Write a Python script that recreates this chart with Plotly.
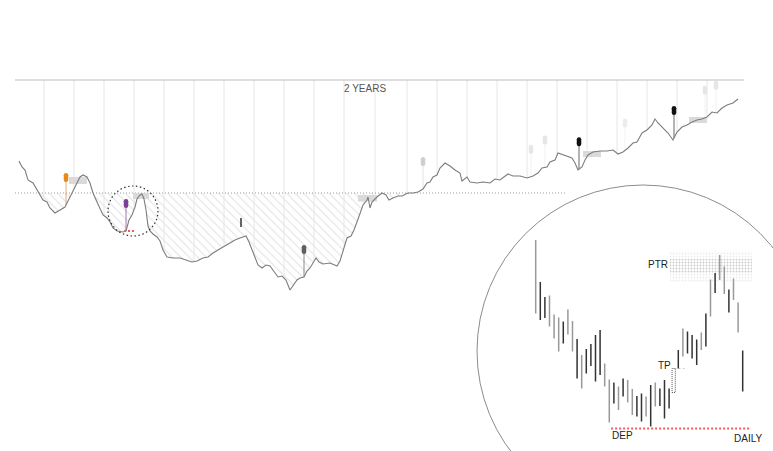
import numpy as np
import plotly.graph_objects as go

# ---------------- main series: % change vs. reference level, by day ----------------
days = [4, 7, 10, 13, 18, 22, 25, 28, 32, 35, 40, 45, 50, 52, 57, 62, 65, 68, 72, 75,
        78, 82, 85, 88, 92, 95, 98, 102, 108, 111, 114, 117, 120, 122, 125, 127, 129, 131, 133, 135,
        138, 142, 145, 148, 152, 158, 165, 172, 177, 182, 188, 193, 198, 203, 208, 215, 220, 225, 231, 234,
        237, 240, 243, 247, 251, 255, 259, 263, 267, 271, 275, 278, 282, 285, 289, 292, 295, 298, 301, 304,
        308, 315, 322, 325, 328, 332, 336, 339, 342, 345, 348, 352, 353, 355, 357, 362, 367, 371, 374, 378,
        383, 387, 393, 398, 403, 408, 412, 415, 418, 422, 425, 430, 435, 440, 445, 447, 452, 455, 462, 468,
        475, 480, 485, 493, 498, 505, 512, 518, 523, 527, 532, 535, 540, 543, 548, 553, 557, 560, 563, 567,
        570, 573, 578, 585, 592, 598, 603, 608, 613, 618, 622, 627, 632, 637, 640, 643, 648, 653, 658, 662,
        667, 672, 677, 682, 687, 692, 697, 702, 707, 712, 718, 723]
values = [6.4, 5.2, 4.6, 2.6, 2.0, 0.6, -0.4, -1.4, -1.8, -3.0, -4.0, -3.4, -2.8, -2.0, 0.0, 2.0, 3.2, 3.6, 3.2, 2.0,
          0.0, -1.8, -3.0, -4.4, -5.0, -5.8, -7.0, -7.6, -7.8, -7.6, -5.4, -4.4, -2.8, -1.2, -0.4, -0.2, -1.2, -3.4, -6.6, -7.6,
          -8.2, -8.8, -9.6, -11.4, -12.8, -13.0, -13.0, -13.4, -13.8, -13.6, -13.0, -12.8, -12.0, -11.4, -10.8, -10.0, -9.4, -9.0, -8.6, -9.8,
          -11.4, -13.0, -14.4, -15.0, -14.4, -14.6, -15.8, -16.8, -16.6, -17.4, -19.4, -18.6, -17.4, -17.0, -16.8, -15.6, -15.0, -14.0, -13.0, -13.8,
          -14.2, -14.0, -14.6, -13.6, -11.4, -9.0, -8.6, -7.4, -5.8, -4.0, -2.4, -1.4, -0.8, -3.0, -1.8, -0.8, 0.0, -0.4, -1.4, -1.0,
          -0.6, -0.6, 0.0, 0.0, 0.2, 0.8, 2.0, 2.2, 3.2, 3.6, 5.0, 6.0, 5.4, 4.6, 4.0, 2.4, 3.2, 2.2, 2.0, 2.2,
          2.0, 2.8, 2.6, 3.8, 3.4, 3.4, 3.0, 3.4, 4.0, 5.0, 5.2, 6.2, 6.6, 8.0, 7.6, 7.2, 7.0, 6.0, 4.6, 5.2,
          6.6, 7.6, 8.2, 8.4, 8.4, 8.6, 7.8, 8.2, 9.0, 10.0, 10.2, 12.0, 12.6, 13.6, 14.8, 14.0, 13.0, 12.0, 10.6, 12.2,
          13.2, 13.6, 14.2, 14.6, 14.8, 15.2, 16.2, 16.0, 17.0, 17.6, 18.0, 18.8]

month_days = [29, 59, 89, 119, 149, 179, 209, 239, 269, 299, 329, 360, 392, 422, 452, 482,
              512, 542, 572, 602, 632, 662, 692]
period_start, period_end = 0, 729
baseline_end = 551
top_level = 22.6

# event pins
pin_days = [51, 111, 289, 408, 564, 659, 516, 530, 610, 690, 701]
pin_colors = ["#e8891c", "#7e3f98", "#5f5f5f", "#cfcfcf", "#111111", "#111111",
              "#e6e6e6", "#e6e6e6", "#ececec", "#e6e6e6", "#e6e6e6"]
pin_stems = ["#e0ad78", "#9c7bb0", "#8a8a8a", "#e2e2e2", "#666666", "#666666",
             "#f1f1f1", "#f1f1f1", "#f3f3f3", "#f1f1f1", "#f1f1f1"]

# highlighted zones
zone_start = [54, 118, 343, 568, 674]
zone_end = [72, 134, 362, 586, 692]
zone_hi = [3.2, 0.0, -0.4, 8.4, 15.2]
zone_lo = [1.8, -1.2, -1.7, 7.2, 14.0]

# ---------------- inset: daily bars ----------------
daily_high = [87.7, 79.3, 76.3, 76.6, 72.8, 72.2, 71.4, 73.8, 71.5, 67.9, 64.7, 65.9, 66.9, 68.7, 69.7, 63.0,
              59.8, 59.2, 58.4, 60.0, 59.7, 57.9, 56.5, 57.0, 56.4, 58.7, 59.2, 58.0, 59.7, 58.0, 62.0, 65.7,
              70.0, 69.4, 68.7, 67.8, 69.2, 73.0, 79.8, 81.1, 84.7, 82.4, 77.8, 80.0, 75.2, 65.6]
daily_low = [73.0, 71.7, 72.1, 70.4, 68.0, 65.4, 67.0, 68.8, 65.4, 60.0, 58.0, 61.0, 62.5, 59.4, 60.7, 58.4,
             51.2, 55.0, 53.7, 56.4, 55.2, 52.7, 52.4, 51.4, 52.4, 50.4, 54.4, 54.5, 52.0, 54.0, 57.2, 62.0,
             64.4, 65.0, 64.0, 62.7, 65.7, 66.4, 72.4, 77.1, 79.7, 76.9, 73.2, 75.7, 69.2, 57.4]
daily_dir = ["down", "up", "up", "down", "down", "down", "up", "down", "down", "up", "down", "up", "up", "up", "up", "down",
             "down", "up", "down", "up", "down", "down", "up", "up", "down", "up", "down", "up", "up", "up", "tp", "up",
             "down", "up", "up", "up", "down", "up", "down", "up", "down", "down", "up", "down", "down", "up"]
dep_level = 50.0
dep_from, dep_to = 16.4, 46.4
ptr_from, ptr_to = 29.2, 47.0
ptr_lo, ptr_hi = 79.3, 85.5
ptr_core_lo, ptr_core_hi = 81.1, 83.9

FONT = "Liberation Sans, Arial, sans-serif"
W, H = 773, 451

fig = go.Figure()
d = np.array(days, float)
v = np.array(values, float)

# hatch area below baseline
xs, ys = [], []
for i in range(len(d) - 1):
    xs.append(d[i]); ys.append(v[i])
    if v[i] * v[i + 1] < 0:
        t = v[i] / (v[i] - v[i + 1])
        xs.append(d[i] + t * (d[i + 1] - d[i])); ys.append(0.0)
xs.append(d[-1]); ys.append(v[-1])
xs = np.array(xs); ys = np.minimum(np.array(ys), 0.0)
fig.add_trace(go.Scatter(x=xs, y=np.zeros_like(xs), mode="lines", line=dict(width=0),
                         hoverinfo="skip", showlegend=False))
fig.add_trace(go.Scatter(x=xs, y=ys, mode="lines", line=dict(width=0), fill="tonexty",
                         fillcolor="rgba(0,0,0,0)",
                         fillpattern=dict(shape="\\", fgcolor="#c2c2c2", size=6, solidity=0.17),
                         hoverinfo="skip", showlegend=False))

# month grid lines from the top down to the curve
gx, gy = [], []
for m in month_days:
    gx += [m, m, None]
    gy += [top_level, float(np.interp(m, d, v)), None]
fig.add_trace(go.Scatter(x=gx, y=gy, mode="lines", line=dict(color="#e6e6e6", width=1),
                         hoverinfo="skip", showlegend=False))

# baseline
fig.add_trace(go.Scatter(x=[period_start, baseline_end], y=[0, 0], mode="lines",
                         line=dict(color="#9a9a9a", width=1, dash="1px,2px"), hoverinfo="skip", showlegend=False))

# zones
for s, e, hi, lo in zip(zone_start, zone_end, zone_hi, zone_lo):
    fig.add_trace(go.Scatter(x=[s, e, e, s, s], y=[hi, hi, lo, lo, hi], mode="lines", fill="toself",
                             fillcolor="#dadada", line=dict(width=0), hoverinfo="skip", showlegend=False))

# pins stems
for pd_, c, sc in zip(pin_days, pin_colors, pin_stems):
    base = float(np.interp(pd_, d, v))
    fig.add_trace(go.Scatter(x=[pd_, pd_], y=[base, base + 5.0], mode="lines",
                             line=dict(color=sc, width=1), hoverinfo="skip", showlegend=False))

# main line
fig.add_trace(go.Scatter(x=days, y=values, mode="lines", line=dict(color="#7d7d7d", width=1.1),
                         hoverinfo="skip", showlegend=False))

# pin heads (capsules)
for pd_, c in zip(pin_days, pin_colors):
    base = float(np.interp(pd_, d, v))
    fig.add_trace(go.Scatter(x=[pd_, pd_], y=[base + 5.05, base + 5.95], mode="lines+markers",
                             line=dict(color=c, width=4.5), marker=dict(color=c, size=4.5),
                             hoverinfo="skip", showlegend=False))

# small marks around the purple event
pu = pin_days[1]
pu_low = float(np.interp(pu, d, v))
fig.add_trace(go.Scatter(x=[pu - 2, pu + 8], y=[pu_low, pu_low], mode="lines",
                         line=dict(color="#f25c5c", width=2, dash="2px,2px"), hoverinfo="skip", showlegend=False))
fig.add_trace(go.Scatter(x=[226, 226], y=[-5.0, -6.8], mode="lines",
                         line=dict(color="#333333", width=1.5), hoverinfo="skip", showlegend=False))

# ---------------- inset traces (x2/y2) ----------------
fig.add_trace(go.Scatter(x=[ptr_from, ptr_to, ptr_to, ptr_from, ptr_from],
                         y=[ptr_lo, ptr_lo, ptr_hi, ptr_hi, ptr_lo], mode="lines", fill="toself",
                         fillcolor="rgba(0,0,0,0)", line=dict(width=0),
                         fillpattern=dict(shape=".", fgcolor="#d9d9d9", size=3, solidity=0.3),
                         xaxis="x2", yaxis="y2", hoverinfo="skip", showlegend=False))
fig.add_trace(go.Scatter(x=[ptr_from, ptr_to, ptr_to, ptr_from, ptr_from],
                         y=[ptr_core_lo, ptr_core_lo, ptr_core_hi, ptr_core_hi, ptr_core_lo], mode="lines",
                         fill="toself", fillcolor="rgba(0,0,0,0)", line=dict(width=0),
                         fillpattern=dict(shape=".", fgcolor="#ababab", size=3, solidity=0.3),
                         xaxis="x2", yaxis="y2", hoverinfo="skip", showlegend=False))

for kind, col in (("down", "#999999"), ("up", "#333333")):
    bx, by = [], []
    for i, (hi, lo, k) in enumerate(zip(daily_high, daily_low, daily_dir)):
        if k == kind:
            bx += [i, i, None]
            by += [lo, hi, None]
    fig.add_trace(go.Scatter(x=bx, y=by, mode="lines", line=dict(color=col, width=1.5),
                             xaxis="x2", yaxis="y2", hoverinfo="skip", showlegend=False))

tp = daily_dir.index("tp")
fig.add_trace(go.Scatter(x=[tp - 0.35, tp + 0.35, tp + 0.35, tp - 0.35, tp - 0.35],
                         y=[daily_low[tp], daily_low[tp], daily_high[tp], daily_high[tp], daily_low[tp]],
                         mode="lines", line=dict(color="#555555", width=1, dash="1px,1px"),
                         xaxis="x2", yaxis="y2", hoverinfo="skip", showlegend=False))
fig.add_trace(go.Scatter(x=[tp + 0.35, tp + 2.5], y=[daily_high[tp], daily_high[tp]],
                         mode="lines", line=dict(color="#aaaaaa", width=1, dash="1px,3px"),
                         xaxis="x2", yaxis="y2", hoverinfo="skip", showlegend=False))
fig.add_trace(go.Scatter(x=[dep_from, dep_to], y=[dep_level, dep_level], mode="lines",
                         line=dict(color="#f25c5c", width=2, dash="2px,2px"),
                         xaxis="x2", yaxis="y2", hoverinfo="skip", showlegend=False))

# ---------------- shapes ----------------
shapes = [
    dict(type="line", xref="x", yref="y", x0=period_start, x1=period_end, y0=top_level, y1=top_level,
         line=dict(color="#bdbdbd", width=1)),
    dict(type="circle", xref="x", yref="y", x0=118 - 25, x1=118 + 25, y0=-3.6 - 5, y1=-3.6 + 5,
         line=dict(color="#333333", width=1.2, dash="1.5px,2.5px")),
    dict(type="circle", xref="paper", yref="paper", x0=477 / W, x1=809 / W, y0=1 - 517 / H, y1=1 - 185 / H,
         line=dict(color="#8c8c8c", width=1)),
]

annotations = [
    dict(text="2 YEARS", x=350, y=20.9, xref="x", yref="y", showarrow=False,
         font=dict(family=FONT, size=10, color="#555555")),
    dict(text="PTR", x=29.1, y=82.9, xref="x2", yref="y2", xanchor="right", showarrow=False,
         font=dict(family=FONT, size=10, color="#222222")),
    dict(text="TP", x=tp - 0.2, y=62.6, xref="x2", yref="y2", xanchor="right", showarrow=False,
         font=dict(family=FONT, size=10, color="#222222")),
    dict(text="DEP", x=dep_from - 0.2, y=48.6, xref="x2", yref="y2", xanchor="left", showarrow=False,
         font=dict(family=FONT, size=10, color="#222222")),
    dict(text="DAILY", x=42.6, y=48.1, xref="x2", yref="y2", xanchor="left", showarrow=False,
         font=dict(family=FONT, size=10, color="#222222")),
]

ax_off = dict(visible=False, showgrid=False, zeroline=False, fixedrange=True)
fig.update_layout(
    width=W, height=H, autosize=False,
    margin=dict(l=0, r=0, t=0, b=0, pad=0),
    paper_bgcolor="white", plot_bgcolor="rgba(0,0,0,0)",
    showlegend=False,
    xaxis=dict(range=[-15, 758], domain=[0, 1], **ax_off),
    yaxis=dict(range=[-51.6, 38.6], domain=[0, 1], **ax_off),
    xaxis2=dict(range=[-116.46, 51.59], domain=[0, 1], anchor="y2", overlaying="x", **ax_off),
    yaxis2=dict(range=[45.5, 135.7], domain=[0, 1], anchor="x2", overlaying="y", **ax_off),
    shapes=shapes,
    annotations=annotations,
)

fig.write_html("out.html", config={"displayModeBar": False, "staticPlot": True},
               post_script="document.body.style.margin='0';document.body.style.overflow='hidden';")
